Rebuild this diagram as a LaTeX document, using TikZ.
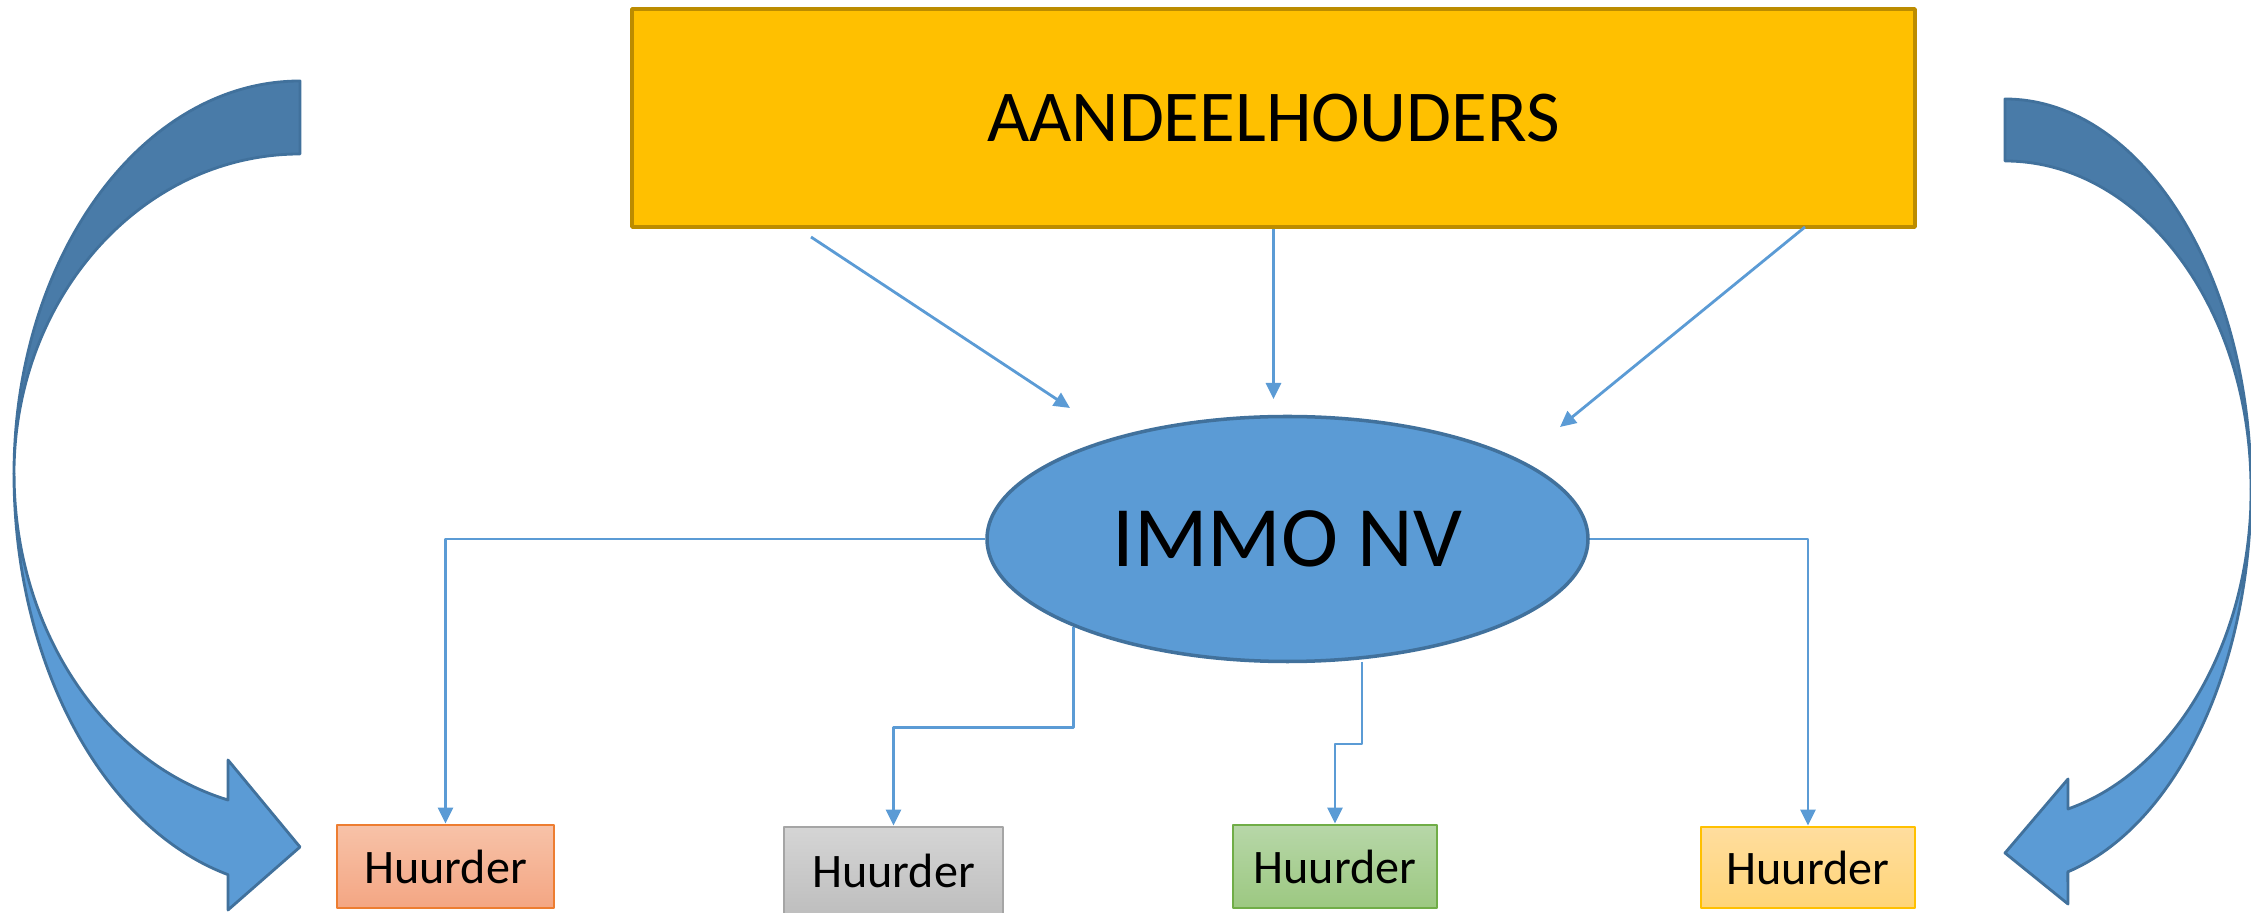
\documentclass[tikz,border=0pt]{standalone}
\usepackage{fontspec}
\setmainfont{Carlito}
\usetikzlibrary{arrows.meta,shapes.geometric}
\definecolor{immoblue}{HTML}{5B9BD5}
\definecolor{immoedge}{HTML}{41719C}
\definecolor{immodark}{HTML}{497BA8}
\definecolor{gold}{HTML}{FFC000}
\definecolor{goldedge}{HTML}{BC8C00}
\begin{document}
\begin{tikzpicture}[line join=round,
	huurder/.style={rectangle, inner sep=0pt, line width=0.8pt, font=\fontsize{13.7}{16}\selectfont},
	link/.style={draw=immoblue, line width=0.8pt, -{Triangle[length=1.6mm,width=1.5mm]}},
	bigarrow/.style={draw=immoedge, line width=0.8pt}]
	\useasboundingbox (0,0) rectangle (22.51,-9.13);
	% bovenste blok en de NV
	\node[rectangle, fill=gold, draw=goldedge, line width=1pt, minimum width=12.83cm, minimum height=2.18cm, font=\fontsize{20.8}{24}\selectfont] (aandeel) at (12.735,-1.18) {AANDEELHOUDERS};
	\node[ellipse, fill=immoblue, draw=immoedge, line width=1pt, inner sep=0pt, minimum width=6.01cm, minimum height=2.45cm, font=\fontsize{24.5}{28}\selectfont] (immo) at (12.875,-5.39) {IMMO NV};
	% huurders
	\node[huurder, draw={rgb,255:red,237;green,125;blue,49}, top color={rgb,255:red,247;green,194;blue,168}, bottom color={rgb,255:red,244;green,166;blue,131}, minimum width=2.17cm, minimum height=0.83cm] (h1) at (4.455,-8.665) {Huurder};
	\node[huurder, draw={rgb,255:red,165;green,165;blue,165}, top color={rgb,255:red,213;green,213;blue,213}, bottom color={rgb,255:red,190;green,190;blue,190}, minimum width=2.19cm, minimum height=0.88cm] (h2) at (8.935,-8.71) {Huurder};
	\node[huurder, draw={rgb,255:red,112;green,173;blue,71}, top color={rgb,255:red,183;green,215;blue,168}, bottom color={rgb,255:red,156;green,200;blue,129}, minimum width=2.04cm, minimum height=0.83cm] (h3) at (13.35,-8.665) {Huurder};
	\node[huurder, draw=gold, top color={rgb,255:red,255;green,221;blue,158}, bottom color={rgb,255:red,255;green,213;blue,120}, minimum width=2.14cm, minimum height=0.81cm] (h4) at (18.08,-8.675) {Huurder};
	% vrije eindpunten
	\coordinate (a1) at (8.11,-2.37);
	\coordinate (t1) at (10.70,-4.08);
	\coordinate (t2) at (12.735,-3.99);
	\coordinate (a3) at (18.05,-2.27);
	\coordinate (t3) at (15.60,-4.27);
	\coordinate (g3) at (13.62,-6.62);
	% pijlen
	\draw[link] (a1)--(t1);
	\draw[link] (aandeel.south)--(t2);
	\draw[link] (a3)--(t3);
	\draw[link] (immo.west) -| (h1.north);
	\draw[link] (immo.south west) -- ++(0,-1.01) -| (h2.north);
	\draw[link] (g3) -- ++(0,-0.82) -| (h3.north);
	\draw[link] (immo.east) -| (h4.north);
	% gebogen pijl links
	\draw[bigarrow, fill=immodark] (3.00,-0.81) arc[start angle=90, end angle=180, x radius=2.86, y radius=3.93]
		arc[start angle=180, end angle=90, x radius=2.86, y radius=3.20] -- cycle;
	\draw[bigarrow, fill=immoblue] (0.14,-4.74) arc[start angle=180, end angle=255.4, x radius=2.86, y radius=4.14]
		-- (2.28,-9.10) -- (3.00,-8.47) -- (2.28,-7.60) -- (2.28,-8.00)
		arc[start angle=255.4, end angle=180, x radius=2.86, y radius=3.37] -- cycle;
	% gebogen pijl rechts
	\draw[bigarrow, fill=immodark] (20.05,-0.99) arc[start angle=90, end angle=0, x radius=2.46, y radius=3.90]
		arc[start angle=0, end angle=90, x radius=2.46, y radius=3.28] -- cycle;
	\draw[bigarrow, fill=immoblue] (22.51,-4.89) arc[start angle=0, end angle=-75.2, x radius=2.46, y radius=3.96]
		-- (20.68,-9.04) -- (20.05,-8.53) -- (20.68,-7.79) -- (20.68,-8.09)
		arc[start angle=-75.2, end angle=0, x radius=2.46, y radius=3.31] -- cycle;
\end{tikzpicture}
\end{document}
